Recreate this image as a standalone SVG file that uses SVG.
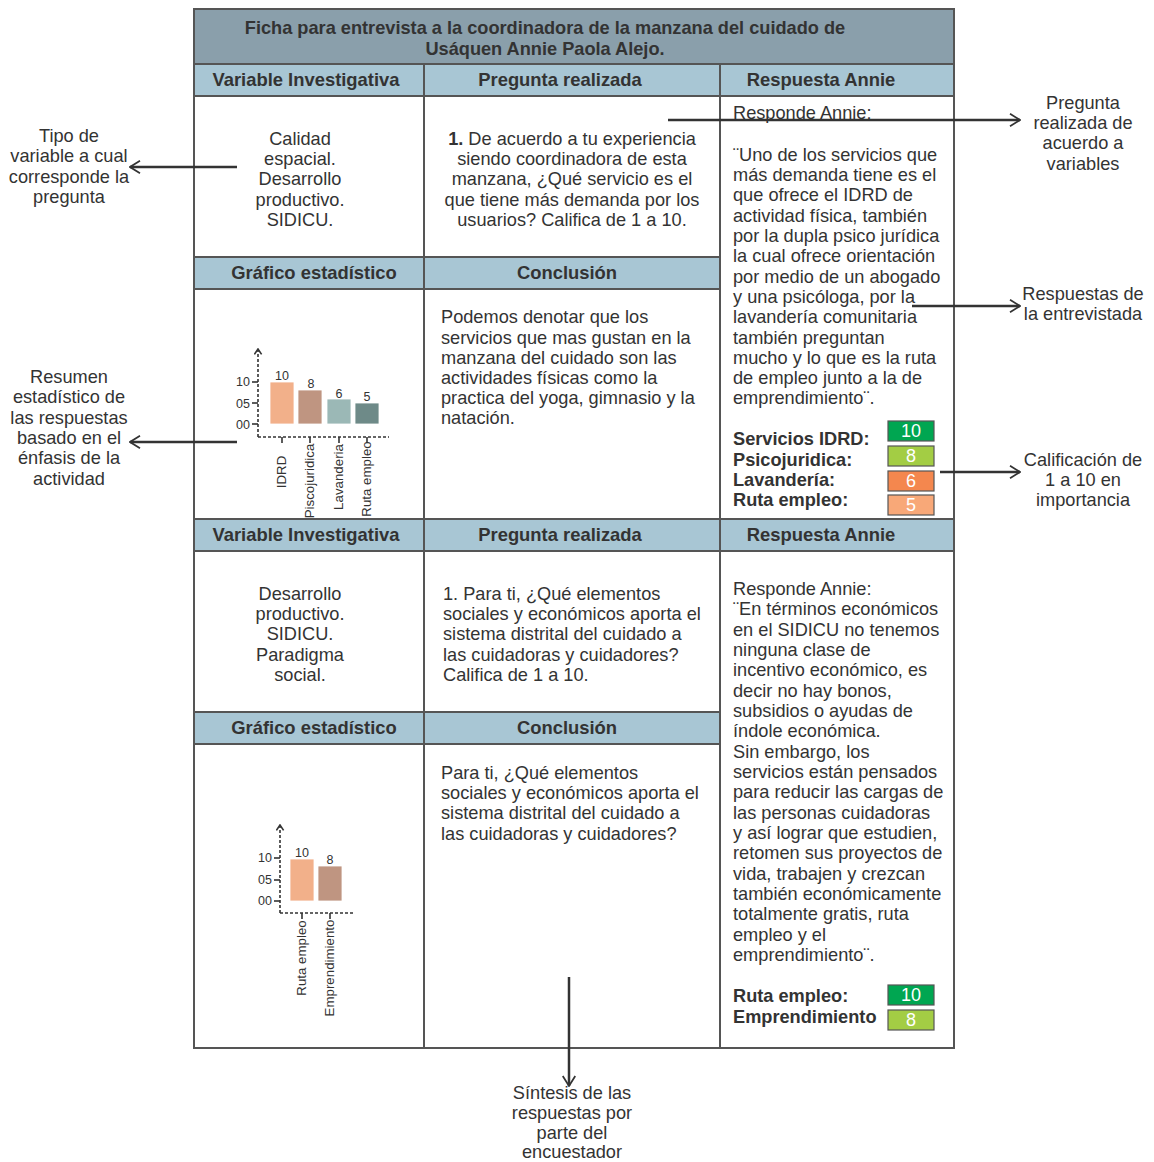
<svg xmlns="http://www.w3.org/2000/svg" width="1154" height="1162" viewBox="0 0 1154 1162">
<defs>
<style>
text{font-family:"Liberation Sans",Arial,sans-serif;fill:#333;}
.b{font-size:18.2px;}
.bb{font-size:18.2px;font-weight:bold;}
.h{font-size:18.4px;font-weight:bold;text-anchor:middle;}
.c{text-anchor:middle;}
.ann{font-size:18.2px;text-anchor:middle;fill:#333;}
.title{fill:#8a9fab;stroke:#555;stroke-width:2;}
.hdr{fill:#a8c6d4;stroke:#555;stroke-width:2;}
.cell{fill:#fff;stroke:#555;stroke-width:2;}
.ax{stroke:#333;stroke-width:1.6;stroke-dasharray:3,2;fill:none;}
.tk{stroke:#333;stroke-width:1.6;}
.sm{font-size:12.5px;}
.lab{font-size:13.3px;text-anchor:middle;}
.sc{stroke:#555;stroke-width:1.2;}
.scn{font-size:18px;fill:#fff;text-anchor:middle;}
.arr{stroke:#333;stroke-width:2.5;fill:none;marker-end:url(#ah);}
</style>
<marker id="ah" viewBox="0 0 10 12" refX="9" refY="6" markerWidth="5" markerHeight="6" orient="auto" markerUnits="strokeWidth">
<path d="M1,1 L9,6 L1,11" fill="none" stroke="#333" stroke-width="1.4"/>
</marker>
<marker id="yh" viewBox="0 0 10 10" refX="9" refY="5" markerWidth="9" markerHeight="9" orient="auto" markerUnits="userSpaceOnUse">
<path d="M3,1 L9,5 L3,9" fill="none" stroke="#333" stroke-width="1.8"/>
</marker>
</defs>
<rect width="1154" height="1162" fill="#fff"/>

<g id="table">
<rect class="title" x="194" y="9" width="760" height="55"/>
<text class="bb c" x="545" y="34">Ficha para entrevista a la coordinadora de la manzana del cuidado de</text>
<text class="bb c" x="545" y="55">Usáquen Annie Paola Alejo.</text>

<rect class="hdr" x="194" y="64" width="230" height="32"/>
<rect class="hdr" x="424" y="64" width="296" height="32"/>
<rect class="hdr" x="720" y="64" width="234" height="32"/>
<text class="h" x="306" y="86">Variable Investigativa</text>
<text class="h" x="560" y="86">Pregunta realizada</text>
<text class="h" x="821" y="86">Respuesta Annie</text>

<rect class="cell" x="194" y="96" width="230" height="161"/>
<rect class="cell" x="424" y="96" width="296" height="161"/>
<rect class="cell" x="720" y="96" width="234" height="423"/>

<rect class="hdr" x="194" y="257" width="230" height="32"/>
<rect class="hdr" x="424" y="257" width="296" height="32"/>
<text class="h" x="314" y="279">Gráfico estadístico</text>
<text class="h" x="567" y="279">Conclusión</text>

<rect class="cell" x="194" y="289" width="230" height="230"/>
<rect class="cell" x="424" y="289" width="296" height="230"/>

<rect class="hdr" x="194" y="519" width="230" height="32"/>
<rect class="hdr" x="424" y="519" width="296" height="32"/>
<rect class="hdr" x="720" y="519" width="234" height="32"/>
<text class="h" x="306" y="541">Variable Investigativa</text>
<text class="h" x="560" y="541">Pregunta realizada</text>
<text class="h" x="821" y="541">Respuesta Annie</text>

<rect class="cell" x="194" y="551" width="230" height="161"/>
<rect class="cell" x="424" y="551" width="296" height="161"/>
<rect class="cell" x="720" y="551" width="234" height="497"/>

<rect class="hdr" x="194" y="712" width="230" height="32"/>
<rect class="hdr" x="424" y="712" width="296" height="32"/>
<text class="h" x="314" y="734">Gráfico estadístico</text>
<text class="h" x="567" y="734">Conclusión</text>

<rect class="cell" x="194" y="744" width="230" height="304"/>
<rect class="cell" x="424" y="744" width="296" height="304"/>
</g>

<g id="var1">
<text class="b c" x="300" y="145">Calidad</text>
<text class="b c" x="300" y="165">espacial.</text>
<text class="b c" x="300" y="185">Desarrollo</text>
<text class="b c" x="300" y="206">productivo.</text>
<text class="b c" x="300" y="226">SIDICU.</text>
</g>

<g id="q1">
<text class="b c" x="572" y="145"><tspan font-weight="bold">1.</tspan> De acuerdo a tu experiencia</text>
<text class="b c" x="572" y="165">siendo coordinadora de esta</text>
<text class="b c" x="572" y="185">manzana, ¿Qué servicio es el</text>
<text class="b c" x="572" y="206">que tiene más demanda por los</text>
<text class="b c" x="572" y="226">usuarios? Califica de 1 a 10.</text>
</g>

<g id="resp1">
<text class="b" x="733" y="119">Responde Annie:</text>
<text class="b" x="733" y="161">¨Uno de los servicios que</text>
<text class="b" x="733" y="181">más demanda tiene es el</text>
<text class="b" x="733" y="201">que ofrece el IDRD de</text>
<text class="b" x="733" y="222">actividad física, también</text>
<text class="b" x="733" y="242">por la dupla psico jurídica</text>
<text class="b" x="733" y="262">la cual ofrece orientación</text>
<text class="b" x="733" y="283">por medio de un abogado</text>
<text class="b" x="733" y="303">y una psicóloga, por la</text>
<text class="b" x="733" y="323">lavandería comunitaria</text>
<text class="b" x="733" y="344">también preguntan</text>
<text class="b" x="733" y="364">mucho y lo que es la ruta</text>
<text class="b" x="733" y="384">de empleo junto a la de</text>
<text class="b" x="733" y="404">emprendimiento¨.</text>
<text class="bb" x="733" y="445">Servicios IDRD:</text>
<text class="bb" x="733" y="466">Psicojuridica:</text>
<text class="bb" x="733" y="486">Lavandería:</text>
<text class="bb" x="733" y="506">Ruta empleo:</text>
<rect class="sc" x="888" y="421" width="46" height="20" fill="#00a651"/>
<text class="scn" x="911" y="437">10</text>
<rect class="sc" x="888" y="446" width="46" height="20" fill="#a3cd44"/>
<text class="scn" x="911" y="462">8</text>
<rect class="sc" x="888" y="471" width="46" height="20" fill="#f4874e"/>
<text class="scn" x="911" y="487">6</text>
<rect class="sc" x="888" y="495" width="46" height="20" fill="#f8a878"/>
<text class="scn" x="911" y="511">5</text>
</g>

<g id="chart1">
<line class="ax" x1="258" y1="437" x2="258" y2="349" marker-end="url(#yh)"/>
<line class="ax" x1="258" y1="437" x2="389" y2="437"/>
<line class="tk" x1="252" y1="382" x2="258" y2="382"/>
<line class="tk" x1="252" y1="403" x2="258" y2="403"/>
<line class="tk" x1="252" y1="424" x2="258" y2="424"/>
<text class="sm" x="250" y="386" text-anchor="end">10</text>
<text class="sm" x="250" y="408" text-anchor="end">05</text>
<text class="sm" x="250" y="429" text-anchor="end">00</text>
<rect x="270" y="382" width="24" height="42" fill="#f2b08a" stroke="#fff" stroke-width="0.8"/>
<rect x="298" y="390" width="24" height="34" fill="#bf9581" stroke="#fff" stroke-width="0.8"/>
<rect x="327" y="399" width="24" height="25" fill="#9bb8b6" stroke="#fff" stroke-width="0.8"/>
<rect x="355" y="403" width="24" height="21" fill="#6e8a88" stroke="#fff" stroke-width="0.8"/>
<text class="sm c" x="282" y="380">10</text>
<text class="sm c" x="311" y="388">8</text>
<text class="sm c" x="339" y="398">6</text>
<text class="sm c" x="367" y="401">5</text>
<line class="tk" x1="282" y1="437" x2="282" y2="443"/>
<line class="tk" x1="310" y1="437" x2="310" y2="443"/>
<line class="tk" x1="339" y1="437" x2="339" y2="443"/>
<line class="tk" x1="367" y1="437" x2="367" y2="443"/>
<text class="lab" transform="translate(286,472) rotate(-90)">IDRD</text>
<text class="lab" transform="translate(314,481) rotate(-90)">Piscojuridica</text>
<text class="lab" transform="translate(343,477) rotate(-90)">Lavanderia</text>
<text class="lab" transform="translate(371,479) rotate(-90)">Ruta empleo</text>
</g>

<g id="concl1">
<text class="b" x="441" y="323">Podemos denotar que los</text>
<text class="b" x="441" y="344">servicios que mas gustan en la</text>
<text class="b" x="441" y="364">manzana del cuidado son las</text>
<text class="b" x="441" y="384">actividades físicas como la</text>
<text class="b" x="441" y="404">practica del yoga, gimnasio y la</text>
<text class="b" x="441" y="424">natación.</text>
</g>

<g id="var2">
<text class="b c" x="300" y="600">Desarrollo</text>
<text class="b c" x="300" y="620">productivo.</text>
<text class="b c" x="300" y="640">SIDICU.</text>
<text class="b c" x="300" y="661">Paradigma</text>
<text class="b c" x="300" y="681">social.</text>
</g>

<g id="q2">
<text class="b" x="443" y="600">1. Para ti, ¿Qué elementos</text>
<text class="b" x="443" y="620">sociales y económicos aporta el</text>
<text class="b" x="443" y="640">sistema distrital del cuidado a</text>
<text class="b" x="443" y="661">las cuidadoras y cuidadores?</text>
<text class="b" x="443" y="681">Califica de 1 a 10.</text>
</g>

<g id="resp2">
<text class="b" x="733" y="595">Responde Annie:</text>
<text class="b" x="733" y="615">¨En términos económicos</text>
<text class="b" x="733" y="636">en el SIDICU no tenemos</text>
<text class="b" x="733" y="656">ninguna clase de</text>
<text class="b" x="733" y="676">incentivo económico, es</text>
<text class="b" x="733" y="697">decir no hay bonos,</text>
<text class="b" x="733" y="717">subsidios o ayudas de</text>
<text class="b" x="733" y="737">índole económica.</text>
<text class="b" x="733" y="758">Sin embargo, los</text>
<text class="b" x="733" y="778">servicios están pensados</text>
<text class="b" x="733" y="798">para reducir las cargas de</text>
<text class="b" x="733" y="819">las personas cuidadoras</text>
<text class="b" x="733" y="839">y así lograr que estudien,</text>
<text class="b" x="733" y="859">retomen sus proyectos de</text>
<text class="b" x="733" y="880">vida, trabajen y crezcan</text>
<text class="b" x="733" y="900">también económicamente</text>
<text class="b" x="733" y="920">totalmente gratis, ruta</text>
<text class="b" x="733" y="941">empleo y el</text>
<text class="b" x="733" y="961">emprendimiento¨.</text>
<text class="bb" x="733" y="1002">Ruta empleo:</text>
<text class="bb" x="733" y="1023">Emprendimiento</text>
<rect class="sc" x="888" y="985" width="46" height="20" fill="#00a651"/>
<text class="scn" x="911" y="1001">10</text>
<rect class="sc" x="888" y="1010" width="46" height="20" fill="#a3cd44"/>
<text class="scn" x="911" y="1026">8</text>
</g>

<g id="chart2">
<line class="ax" x1="280" y1="913" x2="280" y2="825" marker-end="url(#yh)"/>
<line class="ax" x1="280" y1="913" x2="353" y2="913"/>
<line class="tk" x1="274" y1="858" x2="280" y2="858"/>
<line class="tk" x1="274" y1="880" x2="280" y2="880"/>
<line class="tk" x1="274" y1="901" x2="280" y2="901"/>
<text class="sm" x="272" y="862" text-anchor="end">10</text>
<text class="sm" x="272" y="884" text-anchor="end">05</text>
<text class="sm" x="272" y="905" text-anchor="end">00</text>
<rect x="290" y="859" width="24" height="42" fill="#f2b08a" stroke="#fff" stroke-width="0.8"/>
<rect x="318" y="866" width="24" height="35" fill="#bf9581" stroke="#fff" stroke-width="0.8"/>
<text class="sm c" x="302" y="857">10</text>
<text class="sm c" x="330" y="864">8</text>
<line class="tk" x1="302" y1="913" x2="302" y2="919"/>
<line class="tk" x1="330" y1="913" x2="330" y2="919"/>
<text class="lab" transform="translate(306,958) rotate(-90)">Ruta empleo</text>
<text class="lab" transform="translate(334,968) rotate(-90)">Emprendimiento</text>
</g>

<g id="concl2">
<text class="b" x="441" y="779">Para ti, ¿Qué elementos</text>
<text class="b" x="441" y="799">sociales y económicos aporta el</text>
<text class="b" x="441" y="819">sistema distrital del cuidado a</text>
<text class="b" x="441" y="840">las cuidadoras y cuidadores?</text>
</g>

<g id="connectors">
<line class="arr" x1="237" y1="167" x2="130" y2="167"/>
<line class="arr" x1="237" y1="442" x2="130" y2="442"/>
<line class="arr" x1="668" y1="120" x2="1020" y2="120"/>
<line class="arr" x1="912" y1="306" x2="1020" y2="306"/>
<line class="arr" x1="940" y1="472" x2="1020" y2="472"/>
<line class="arr" x1="569" y1="977" x2="569" y2="1086"/>
</g>

<g id="ann-tipo">
<text class="ann" x="69" y="142">Tipo de</text>
<text class="ann" x="69" y="162">variable a cual</text>
<text class="ann" x="69" y="183">corresponde la</text>
<text class="ann" x="69" y="203">pregunta</text>
</g>
<g id="ann-resumen">
<text class="ann" x="69" y="383">Resumen</text>
<text class="ann" x="69" y="403">estadístico de</text>
<text class="ann" x="69" y="424">las respuestas</text>
<text class="ann" x="69" y="444">basado en el</text>
<text class="ann" x="69" y="464">énfasis de la</text>
<text class="ann" x="69" y="485">actividad</text>
</g>
<g id="ann-pregunta">
<text class="ann" x="1083" y="109">Pregunta</text>
<text class="ann" x="1083" y="129">realizada de</text>
<text class="ann" x="1083" y="149">acuerdo a</text>
<text class="ann" x="1083" y="170">variables</text>
</g>
<g id="ann-respuestas">
<text class="ann" x="1083" y="300">Respuestas de</text>
<text class="ann" x="1083" y="320">la entrevistada</text>
</g>
<g id="ann-calif">
<text class="ann" x="1083" y="466">Calificación de</text>
<text class="ann" x="1083" y="486">1 a 10 en</text>
<text class="ann" x="1083" y="506">importancia</text>
</g>
<g id="ann-sintesis">
<text class="ann" x="572" y="1099">Síntesis de las</text>
<text class="ann" x="572" y="1119">respuestas por</text>
<text class="ann" x="572" y="1139">parte del</text>
<text class="ann" x="572" y="1158">encuestador</text>
</g>
</svg>
